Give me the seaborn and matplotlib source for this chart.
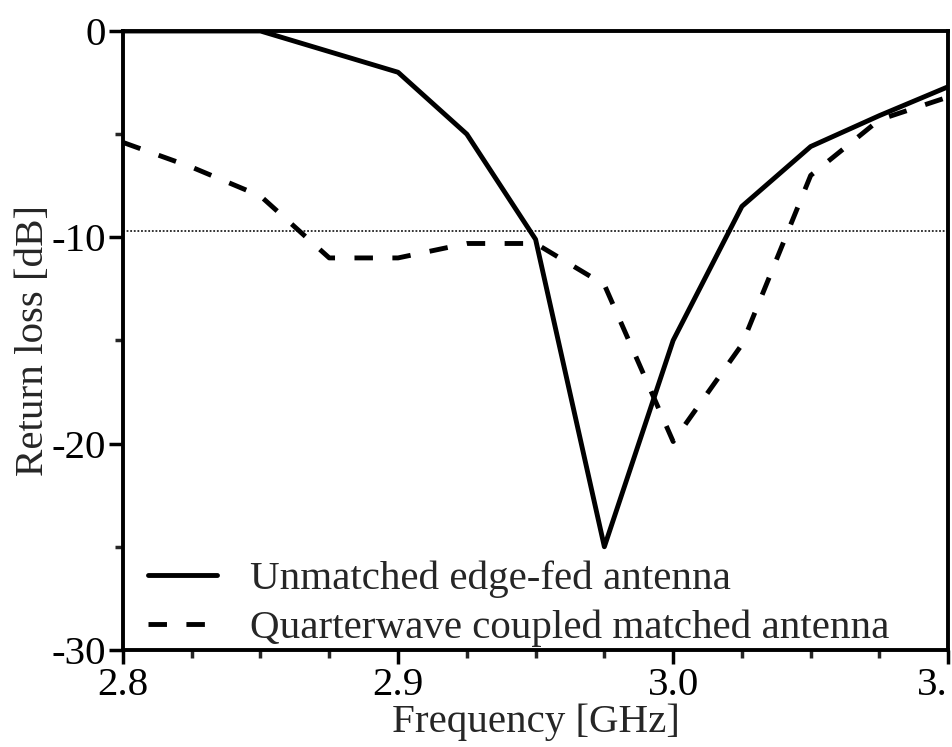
import numpy as np
import pandas as pd
import seaborn as sns
from matplotlib import pyplot as plt
from matplotlib.ticker import MultipleLocator

# 读取的数据 (从图中估计)
freq_unmatched = [2.80, 2.825, 2.85, 2.90, 2.925, 2.95, 2.975, 3.00, 3.025, 3.05, 3.075, 3.10]
rl_unmatched = [0.0, 0.0, 0.0, -2.0, -5.0, -10.1, -25.0, -15.0, -8.5, -5.6, -4.1, -2.7]

freq_matched = [2.80, 2.825, 2.85, 2.875, 2.90, 2.925, 2.95, 2.975, 3.00, 3.025, 3.05, 3.075, 3.10]
rl_matched = [-5.4, -6.6, -8.0, -11.0, -11.0, -10.3, -10.3, -12.3, -19.9, -15.2, -7.0, -4.3, -3.2]

ref_level = -9.7
label_unmatched = 'Unmatched edge-fed antenna'
label_matched = 'Quarterwave coupled matched antenna'

xticks = [2.8, 2.9, 3.0, 3.1]
xticklabels = ['2.8', '2.9', '3.0', '3.']   # 原图最后一个标签被裁掉
yticks = [0, -10, -20, -30]

df = pd.concat([
    pd.DataFrame({'freq': freq_unmatched, 'rl': rl_unmatched, 'antenna': label_unmatched}),
    pd.DataFrame({'freq': freq_matched, 'rl': rl_matched, 'antenna': label_matched}),
])

sns.set_style('ticks')
plt.rcParams['font.family'] = ['Liberation Serif', 'DejaVu Serif']
fs = 29.5
plt.rcParams['font.size'] = fs

fig = plt.figure(figsize=(9.53, 7.47), dpi=100)
ax = fig.add_axes([0.129, 0.130, 0.866, 0.8285])

# -10 dB 参考线
ax.axhline(ref_level, color='#222222', linewidth=1.3, linestyle=(0, (1, 1)), zorder=1)

sns.lineplot(data=df[df['antenna'] == label_unmatched], x='freq', y='rl', ax=ax,
             color='black', linewidth=3.5, label=label_unmatched, zorder=3)
sns.lineplot(data=df[df['antenna'] == label_matched], x='freq', y='rl', ax=ax,
             color='black', linewidth=3.5, linestyle=(0, (3.8, 4)), label=label_matched, zorder=3)

ax.set_xlim(2.8, 3.1)
ax.set_ylim(-30, 0)
ax.set_xticks(xticks)
ax.set_xticklabels(xticklabels)
ax.get_xticklabels()[-1].set_horizontalalignment('right')
ax.set_yticks(yticks)
ax.set_yticklabels([str(t) for t in yticks])
ax.xaxis.set_minor_locator(MultipleLocator(0.025))
ax.yaxis.set_minor_locator(MultipleLocator(5))
ax.tick_params(axis='both', which='major', direction='out', length=10, width=2.5,
               labelsize=fs, pad=2, colors='black')
ax.tick_params(axis='both', which='minor', direction='out', length=6, width=2.5)

for s in ax.spines.values():
    s.set_linewidth(2.8)
    s.set_color('black')

ax.set_xlabel('Frequency [GHz]', fontsize=fs, labelpad=0)
ax.set_ylabel('Return loss [dB]', fontsize=fs, labelpad=0)

ax.legend(loc='lower left', bbox_to_anchor=(0.0, -0.035), frameon=False, fontsize=fs,
          handlelength=1.7, handletextpad=0.8, labelspacing=0.27, borderaxespad=0.2)

fig.savefig('out.png', dpi=100)
